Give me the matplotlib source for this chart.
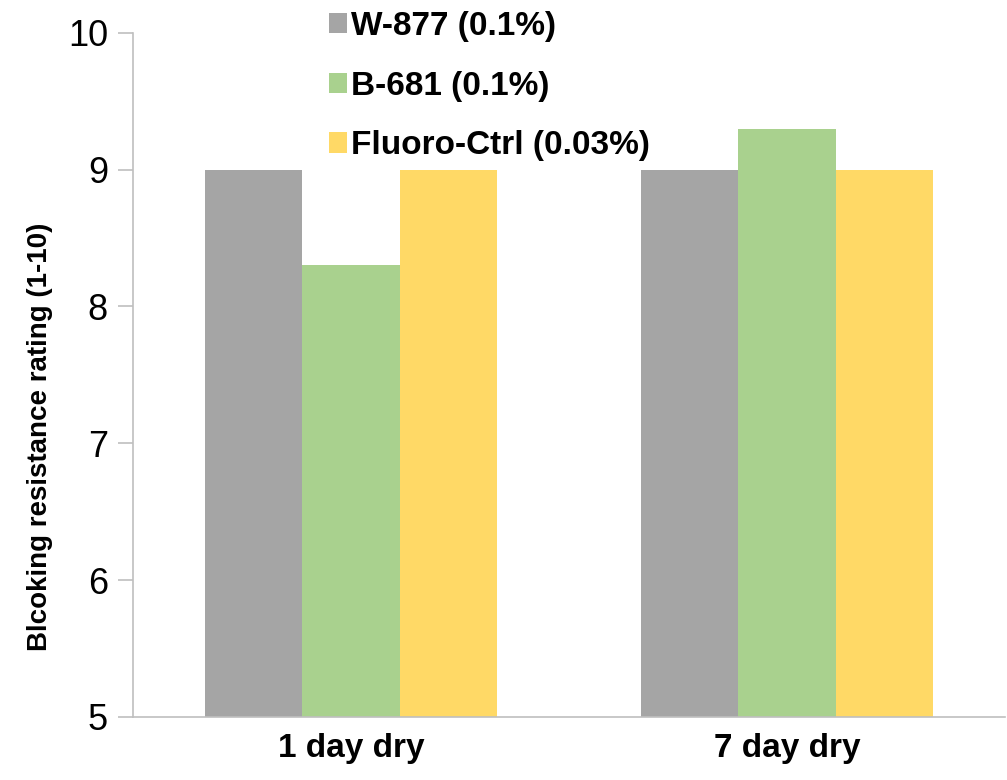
import numpy as np
import matplotlib.pyplot as plt

categories = ["1 day dry", "7 day dry"]
series_names = ["W-877 (0.1%)", "B-681 (0.1%)", "Fluoro-Ctrl (0.03%)"]
w877 = [9.0, 9.0]
b681 = [8.3, 9.3]
fluoro = [9.0, 9.0]
colors = ["#A5A5A5", "#A9D18E", "#FFD966"]

plt.rcParams['font.family'] = ['Liberation Sans', 'DejaVu Sans']

fig = plt.figure(figsize=(10.07, 7.8), dpi=100)
ax = fig.add_axes([0.132, 0.081, 0.866, 0.877])

x = np.arange(len(categories))
width = 0.223
for i, (vals, name) in enumerate(zip([w877, b681, fluoro], series_names)):
    ax.bar(x + (i - 1) * width, vals, width, color=colors[i], label=name, zorder=2)

ax.set_xlim(-0.5, 1.5)
ax.set_ylim(5, 10)
ax.set_yticks([5, 6, 7, 8, 9, 10])
ax.set_xticks(x)
ax.set_xticklabels(categories, fontsize=24, fontweight='bold')
ax.tick_params(axis='x', length=0, pad=12)
ax.tick_params(axis='y', labelsize=26, length=11, color='#BFBFBF', width=1.2, pad=7)
ax.set_ylabel("Blcoking resistance rating (1-10)", fontsize=20, fontweight='bold')
ax.yaxis.set_label_coords(-0.092, 0.41)

for s in ['top', 'right']:
    ax.spines[s].set_visible(False)
for s in ['left', 'bottom']:
    ax.spines[s].set_color('#BFBFBF')
    ax.spines[s].set_linewidth(1.2)

fig.legend(loc='upper left', bbox_to_anchor=(0.313, 1.003), frameon=False,
           prop={'size': 24, 'weight': 'bold'}, handlelength=0.55, handleheight=0.55,
           handletextpad=0.12, labelspacing=0.86, borderaxespad=0)

fig.savefig("out.png", dpi=100)
